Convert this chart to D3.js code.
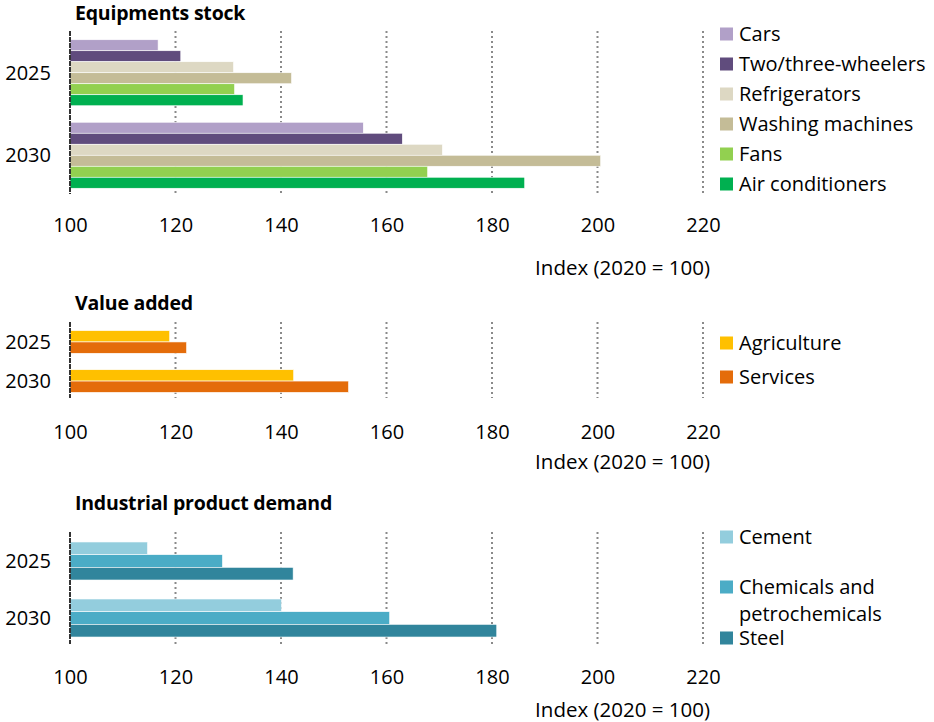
<!DOCTYPE html>
<html>
<head>
<meta charset="utf-8">
<script src="https://cdn.jsdelivr.net/npm/d3@7"></script>
<style>
  body { margin: 0; background: #fff; }
  svg text { font-family: "Open Sans", Lato, sans-serif; fill: #000; }
</style>
</head>
<body>
<svg id="chart" width="934" height="722"></svg>
<script>
// ---- data ----
const years = ["2025", "2030"];
const xTicks = [100, 120, 140, 160, 180, 200, 220];
const axisLabel = "Index (2020 = 100)";

const equipTitle = "Equipments stock";
const equipSeries = ["Cars", "Two/three-wheelers", "Refrigerators", "Washing machines", "Fans", "Air conditioners"];
const equip2025 = [116.7, 121.0, 131.0, 142.0, 131.2, 132.8];
const equip2030 = [155.6, 163.0, 170.6, 200.6, 167.8, 186.2];

const valueTitle = "Value added";
const valueSeries = ["Agriculture", "Services"];
const value2025 = [118.9, 122.1];
const value2030 = [142.4, 152.8];

const indTitle = "Industrial product demand";
const indSeries = ["Cement", "Chemicals and petrochemicals", "Steel"];
const ind2025 = [114.7, 128.9, 142.3];
const ind2030 = [140.1, 160.6, 180.9];

// ---- styles / layout ----
const equipColors = ["#b1a0c8", "#604c7d", "#ddd8c3", "#c4bc97", "#92d050", "#00b050"];
const valueColors = ["#ffc000", "#e46c0a"];
const indColors = ["#93cddd", "#4bacc6", "#31859c"];

const svg = d3.select("#chart");
const x = d3.scaleLinear().domain([100, 220]).range([70, 703]);

const panels = [
  { title: equipTitle, titleY: 13, series: equipSeries, values: [equip2025, equip2030], colors: equipColors,
    range: [31, 197], pIn: 0.2, pOut: 0.106, axisY: 215, labelY: 268,
    legend: equipSeries.map((s, i) => ({ lines: [s], y: 34 + i * 30 })) },
  { title: valueTitle, titleY: 303, series: valueSeries, values: [value2025, value2030], colors: valueColors,
    range: [322, 401], pIn: 0.42, pOut: 0.22, axisY: 422, labelY: 462,
    legend: valueSeries.map((s, i) => ({ lines: [s], y: 343 + i * 34 })) },
  { title: indTitle, titleY: 503, series: indSeries, values: [ind2025, ind2030], colors: indColors,
    range: [532, 647], pIn: 0.333, pOut: 0.175, axisY: 667, labelY: 710,
    legend: [ { lines: ["Cement"], y: 537 }, { lines: ["Chemicals and", "petrochemicals"], y: 587 }, { lines: ["Steel"], y: 638 } ] }
];

panels.forEach(p => {
  const g = svg.append("g");
  const y0 = d3.scaleBand().domain(years).range(p.range).paddingInner(p.pIn).paddingOuter(p.pOut);
  const y1 = d3.scaleBand().domain(p.series).range([0, y0.bandwidth()]);
  const color = d3.scaleOrdinal().domain(p.series).range(p.colors);

  // title
  g.append("text").attr("x", 75).attr("y", p.titleY).attr("dy", "0.35em")
    .attr("font-weight", "bold").attr("font-size", 19.5).attr("letter-spacing", -0.2).text(p.title);

  // gridlines
  g.selectAll("line.grid").data(xTicks.slice(1)).join("line")
    .attr("x1", d => x(d)).attr("x2", d => x(d))
    .attr("y1", p.range[0]).attr("y2", p.range[1] - 3)
    .attr("stroke", "#8a8a8a").attr("stroke-width", 2).attr("stroke-dasharray", "2,3");

  // bars
  years.forEach((yr, yi) => {
    g.selectAll(null).data(p.series).join("rect")
      .attr("x", x(100))
      .attr("y", s => y0(yr) + y1(s))
      .attr("width", (s, i) => x(p.values[yi][i]) - x(100))
      .attr("height", y1.bandwidth())
      .attr("fill", s => color(s))
      .attr("stroke", "#ffffff").attr("stroke-width", 0.6);
  });

  // left axis line
  g.append("line").attr("x1", x(100)).attr("x2", x(100))
    .attr("y1", p.range[0]).attr("y2", p.range[1] - 3)
    .attr("stroke", "#333").attr("stroke-width", 2).attr("stroke-dasharray", "5,1");

  // year labels
  g.selectAll("text.year").data(years).join("text")
    .attr("x", 51).attr("y", d => y0(d) + y0.bandwidth() / 2).attr("dy", "0.35em")
    .attr("text-anchor", "end").attr("font-size", 20).text(d => d);

  // x axis
  const ax = g.append("g").attr("transform", `translate(0,${p.axisY})`)
    .call(d3.axisBottom(x).tickValues(xTicks).tickSize(0).tickPadding(3).tickFormat(d3.format("d")));
  ax.select(".domain").remove();
  ax.selectAll("text").attr("font-size", 20).style("font-family", "'Open Sans', Lato, sans-serif").attr("fill", "#000");

  // axis label
  g.append("text").attr("x", 710).attr("y", p.labelY).attr("dy", "0.35em")
    .attr("text-anchor", "end").attr("font-size", 20.5).text(axisLabel);

  // legend
  p.legend.forEach((it, i) => {
    g.append("rect").attr("x", 720).attr("y", it.y - 6.5).attr("width", 13).attr("height", 13)
      .attr("fill", p.colors[i]);
    it.lines.forEach((ln, li) => {
      g.append("text").attr("x", 739).attr("y", it.y + li * 27).attr("dy", "0.35em")
        .attr("font-size", 20).text(ln);
    });
  });
});
</script>
</body>
</html>
